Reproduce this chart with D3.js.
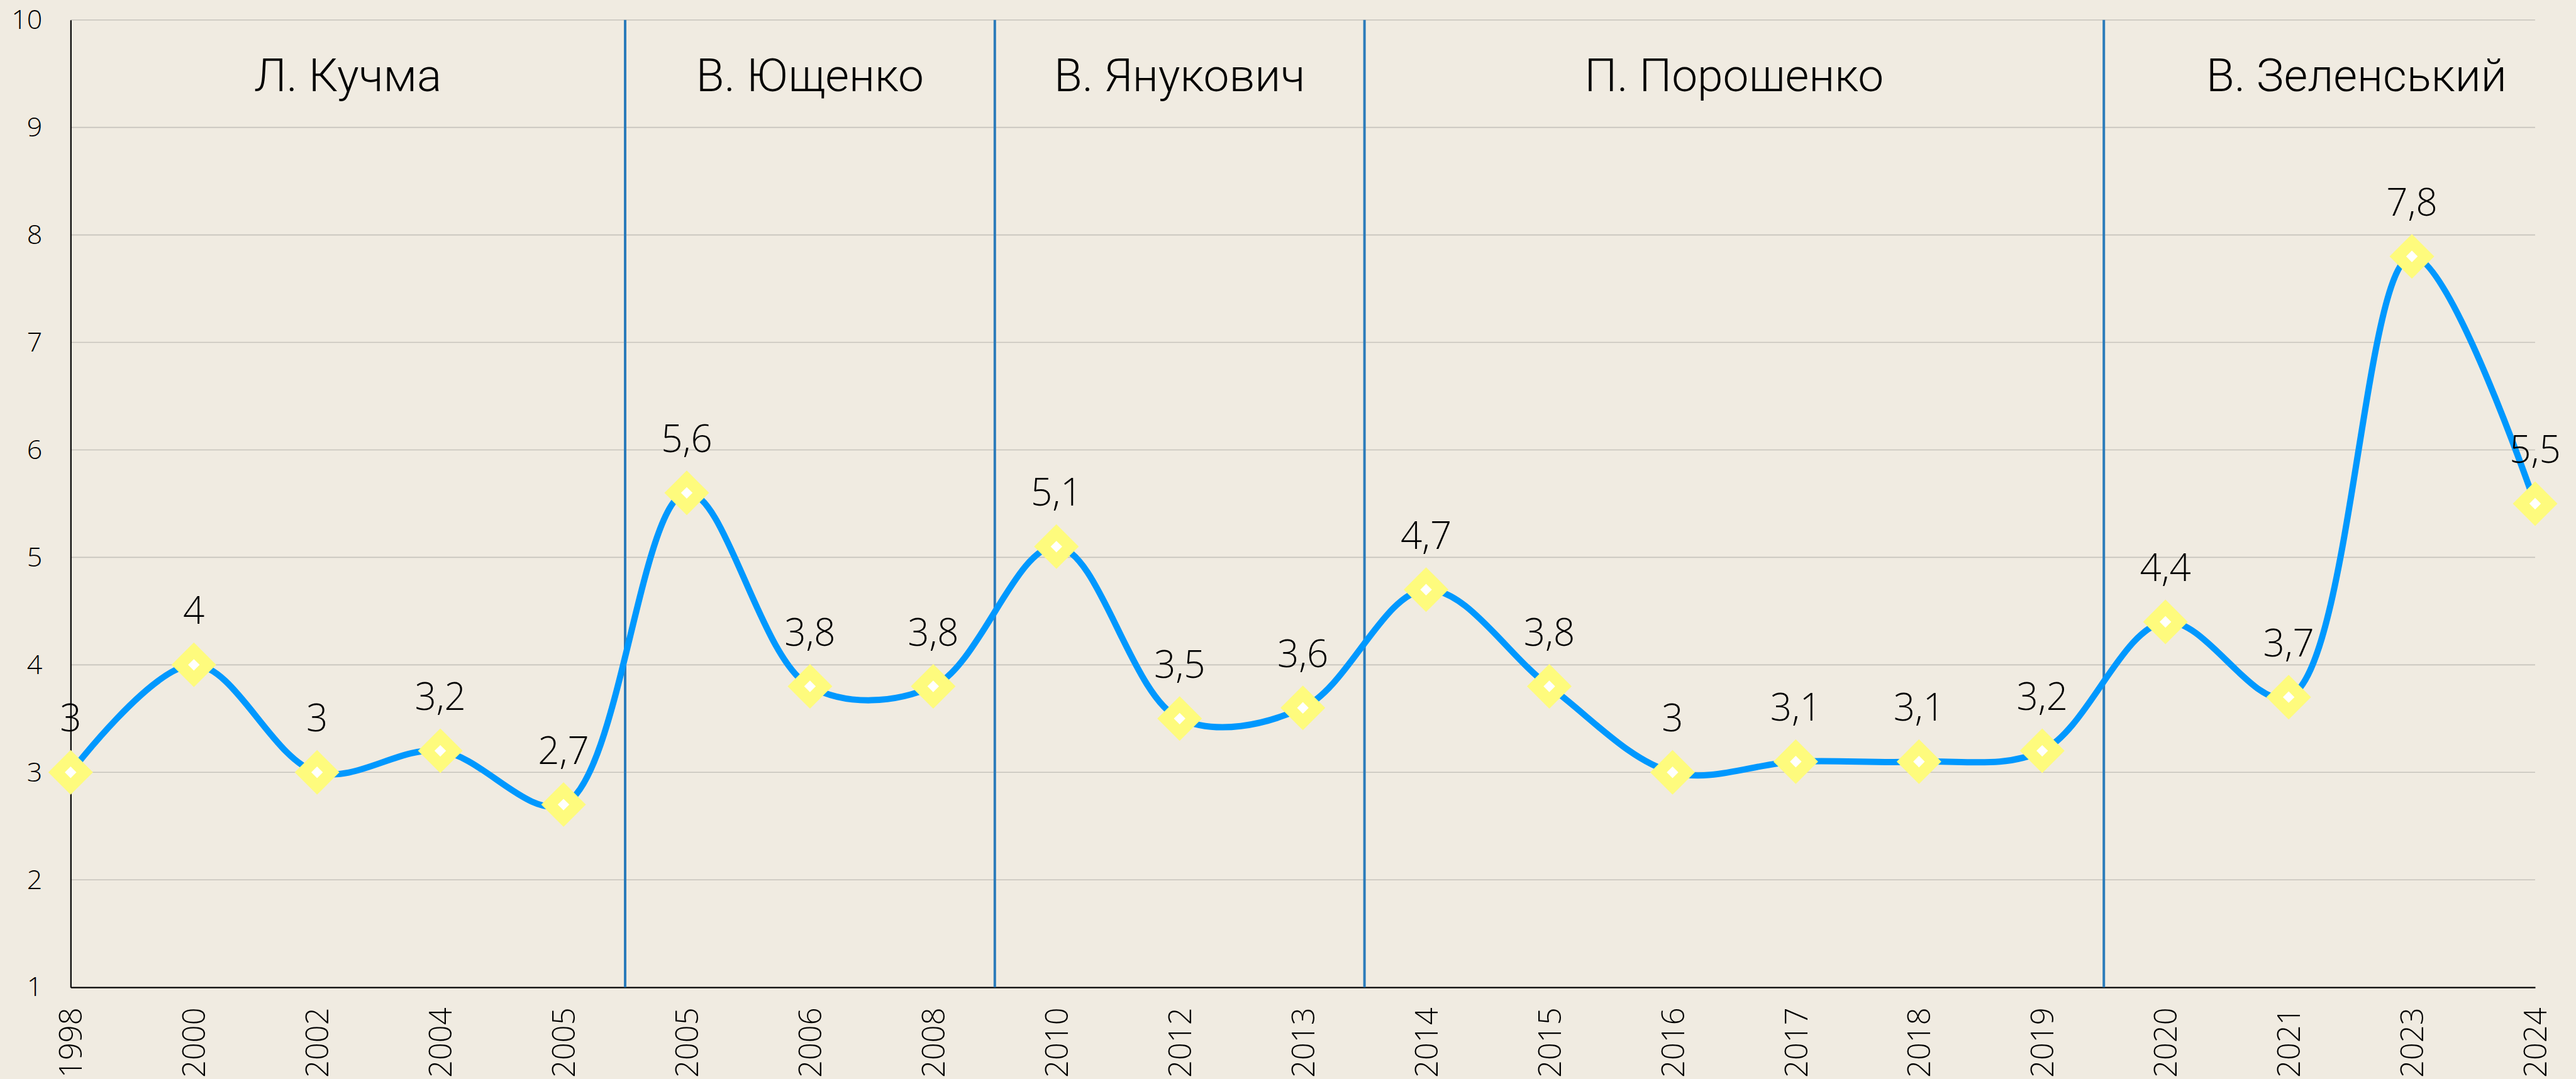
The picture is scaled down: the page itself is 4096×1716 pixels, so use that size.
<!DOCTYPE html>
<html>
<head>
<meta charset="utf-8">
<script src="https://cdn.jsdelivr.net/npm/d3@7"></script>
<style>
  body { margin: 0; background: #f0ebe1; }
  svg { display: block; }
</style>
</head>
<body>
<svg id="chart"></svg>
<script>
// Data
const years = ['1998', '2000', '2002', '2004', '2005', '2005', '2006', '2008', '2010', '2012', '2013',
    '2014', '2015', '2016', '2017', '2018', '2019', '2020', '2021', '2023', '2024'];
const values = [3, 4, 3, 3.2, 2.7, 5.6, 3.8, 3.8, 5.1, 3.5, 3.6, 4.7, 3.8, 3, 3.1, 3.1, 3.2, 4.4, 3.7, 7.8, 5.5];
const presidents = ['Л. Кучма', 'В. Ющенко', 'В. Янукович', 'П. Порошенко', 'В. Зеленський'];
const termStart = [0, 5, 8, 11, 17];   // first point of each term
const yTicks = [1, 2, 3, 4, 5, 6, 7, 8, 9, 10];

const width = 4096, height = 1716;
const margin = { top: 31.7, right: 65, bottom: 145.8, left: 112.3 };

const numFont = "'Open Sans', sans-serif";
const nameFont = "Roboto, 'Liberation Sans', sans-serif";

let svg = d3.select('#chart')
    .attr('width', width)
    .attr('height', height)
    .style('background', '#f0ebe1');

let xScale = d3.scalePoint()
    .domain(d3.range(years.length))
    .range([margin.left, width - margin.right]);

let yScale = d3.scaleLinear()
    .domain([1, 10])
    .range([height - margin.bottom, margin.top]);

const step = xScale.step();

// Gridlines
svg.append('g')
    .selectAll('line')
    .data(yTicks.filter(d => d > 1))
    .enter()
    .append('line')
    .attr('x1', margin.left)
    .attr('x2', width - margin.right)
    .attr('y1', d => yScale(d))
    .attr('y2', d => yScale(d))
    .attr('stroke', '#c6c3bc')
    .attr('stroke-width', 1.6);

// Y axis
let yAxis = svg.append('g')
    .attr('transform', `translate(${margin.left}, 0)`)
    .call(d3.axisLeft(yScale).tickValues(yTicks).tickSize(0).tickPadding(45).tickFormat(d3.format('d')));

yAxis.select('.domain').attr('stroke', '#000').attr('stroke-width', 2.2);
yAxis.selectAll('.tick text')
    .style('font-family', numFont)
    .style('font-weight', 300)
    .style('font-size', '43px')
    .attr('fill', '#000');

// X axis
let xAxis = svg.append('g')
    .attr('transform', `translate(0, ${height - margin.bottom})`)
    .call(d3.axisBottom(xScale).tickSize(0).tickFormat(i => years[i]));

xAxis.select('.domain').attr('stroke', '#000').attr('stroke-width', 2.2);
xAxis.selectAll('.tick text')
    .style('font-family', numFont)
    .style('font-weight', 300)
    .style('font-size', '49px')
    .attr('fill', '#000')
    .attr('text-anchor', 'end')
    .attr('transform', 'rotate(-90)')
    .attr('x', -32)
    .attr('y', 0)
    .attr('dy', '0.36em');

// Term dividers
svg.append('g')
    .selectAll('line')
    .data(termStart.slice(1))
    .enter()
    .append('line')
    .attr('x1', d => xScale(d) - step / 2)
    .attr('x2', d => xScale(d) - step / 2)
    .attr('y1', yScale(10))
    .attr('y2', yScale(1))
    .attr('stroke', '#2b7bba')
    .attr('stroke-width', 4);

// President names, the last term runs a bit past the final point
svg.append('g')
    .selectAll('text')
    .data(presidents)
    .enter()
    .append('text')
    .attr('x', (d, i) => {
        const left = i === 0 ? xScale(0) : xScale(termStart[i]) - step / 2;
        const right = i === presidents.length - 1 ? xScale(years.length - 1) + step * 0.6 : xScale(termStart[i + 1]) - step / 2;
        return (left + right) / 2;
    })
    .attr('y', 145)
    .attr('text-anchor', 'middle')
    .style('font-family', nameFont)
    .style('font-weight', 300)
    .style('font-size', '73px')
    .attr('fill', '#000')
    .text(d => d);

// Line
const line = d3.line()
    .x((d, i) => xScale(i))
    .y(d => yScale(d))
    .curve(d3.curveCatmullRom.alpha(0.5));

svg.append('path')
    .datum(values)
    .attr('d', line)
    .attr('fill', 'none')
    .attr('stroke', '#0098fe')
    .attr('stroke-width', 10);

// Markers
const diamond = r => `M0,${-r}L${r},0L0,${r}L${-r},0Z`;

let markers = svg.append('g')
    .selectAll('g')
    .data(values)
    .enter()
    .append('g')
    .attr('transform', (d, i) => `translate(${xScale(i)}, ${yScale(d)})`);

markers.append('path')
    .attr('d', diamond(35.5))
    .attr('fill', '#fefb7d');

markers.append('path')
    .attr('d', diamond(9.2))
    .attr('fill', '#ffffff');

// Value labels
svg.append('g')
    .selectAll('text')
    .data(values)
    .enter()
    .append('text')
    .attr('x', (d, i) => xScale(i))
    .attr('y', d => yScale(d) - 65)
    .attr('text-anchor', 'middle')
    .style('font-family', numFont)
    .style('font-weight', 300)
    .style('font-size', '60px')
    .attr('fill', '#000')
    .text(d => String(d).replace('.', ','));
</script>
</body>
</html>
